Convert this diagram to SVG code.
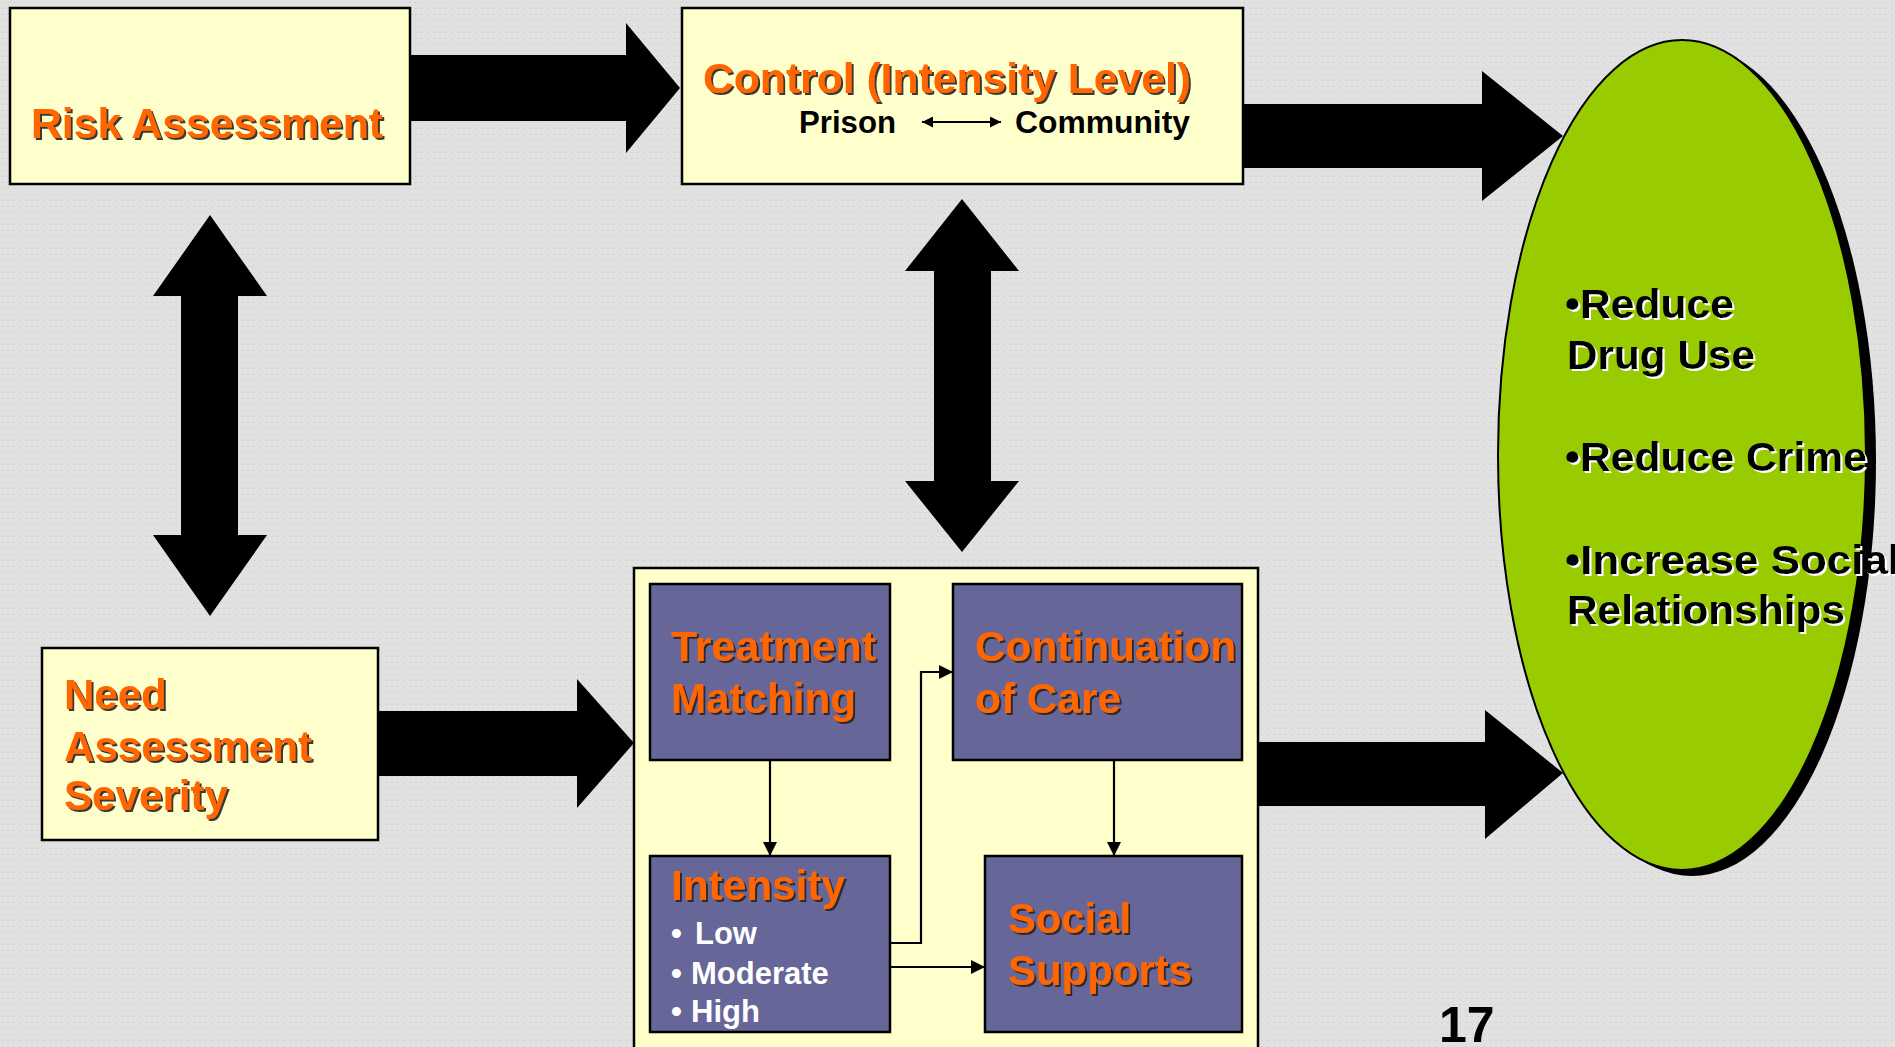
<svg xmlns="http://www.w3.org/2000/svg" width="1895" height="1047" viewBox="0 0 1895 1047">
<defs>
<pattern id="dots" width="6" height="6" patternUnits="userSpaceOnUse">
<rect width="6" height="6" fill="#e1e1e1"/>
<rect x="1" y="2" width="2" height="1" fill="#d2d2d2"/>
</pattern>
<filter id="darkShadow" x="-5%" y="-20%" width="110%" height="140%">
<feDropShadow dx="2" dy="2" stdDeviation="0.4" flood-color="#222" flood-opacity="0.9"/>
</filter>
<filter id="whiteShadow" x="-5%" y="-20%" width="110%" height="140%">
<feDropShadow dx="2" dy="2" stdDeviation="0" flood-color="#ffffff" flood-opacity="1"/>
</filter>
<marker id="ah" viewBox="0 0 10 10" refX="10" refY="5" markerWidth="14" markerHeight="14" markerUnits="userSpaceOnUse" orient="auto">
<path d="M0,0 L10,5 L0,10 z" fill="#000"/>
</marker>
<marker id="ahs" viewBox="0 0 10 10" refX="10" refY="5" markerWidth="13" markerHeight="11" markerUnits="userSpaceOnUse" orient="auto-start-reverse">
<path d="M0,0 L10,5 L0,10 z" fill="#000"/>
</marker>
</defs>
<style>
text { font-family: "Liberation Sans", Arial, sans-serif; font-weight: bold; }
.box { fill: #ffffcc; stroke: #000; stroke-width: 2.5; }
.inner { fill: #666699; stroke: #000; stroke-width: 2.5; }
.orange { fill: #ff6600; font-size: 42px; filter: url(#darkShadow); }
.sub { fill: #000; font-size: 31px; }
.white { fill: #fff; font-size: 31px; }
.goal { fill: #000; font-size: 40px; filter: url(#whiteShadow); }
.big { fill: #000; }
.thin { stroke: #000; stroke-width: 2.2; fill: none; }
</style>
<rect width="1895" height="1047" fill="url(#dots)"/>

<g id="connectors">
<polygon class="big" points="410,55 626,55 626,23 680,88 626,153 626,121 410,121"/>
<polygon class="big" points="1243,104 1482,104 1482,71 1563,136 1482,201 1482,168 1243,168"/>
<polygon class="big" points="378,711 577,711 577,679 634,743 577,808 577,776 378,776"/>
<polygon class="big" points="1258,742 1485,742 1485,710 1563,773 1485,839 1485,806 1258,806"/>
<polygon class="big" points="210,215 267,296 238,296 238,535 267,535 210,616 153,535 181,535 181,296 153,296"/>
<polygon class="big" points="962,199 1019,271 991,271 991,481 1019,481 962,552 905,481 934,481 934,271 905,271"/>
</g>

<g id="risk-assessment">
<rect class="box" x="10" y="8" width="400" height="176"/>
<text class="orange" x="31" y="138" textLength="352" lengthAdjust="spacingAndGlyphs">Risk Assessment</text>
</g>

<g id="control">
<rect class="box" x="682" y="8" width="561" height="176"/>
<text class="orange" x="703" y="93" textLength="488" lengthAdjust="spacingAndGlyphs">Control (Intensity Level)</text>
<text class="sub" x="799" y="133" textLength="97" lengthAdjust="spacingAndGlyphs">Prison</text>
<line class="thin" x1="922" y1="122" x2="1001" y2="122" marker-start="url(#ahs)" marker-end="url(#ahs)"/>
<text class="sub" x="1015" y="133" textLength="175" lengthAdjust="spacingAndGlyphs">Community</text>
</g>

<g id="need-assessment">
<rect class="box" x="42" y="648" width="336" height="192"/>
<text class="orange" x="64" y="709">Need</text>
<text class="orange" x="64" y="761" textLength="248" lengthAdjust="spacingAndGlyphs">Assessment</text>
<text class="orange" x="64" y="810" textLength="164" lengthAdjust="spacingAndGlyphs">Severity</text>
</g>

<g id="treatment-container">
<rect class="box" x="634" y="568" width="624" height="500"/>
</g>

<g id="treatment-matching">
<rect class="inner" x="650" y="584" width="240" height="176"/>
<text class="orange" x="671" y="661" textLength="205" lengthAdjust="spacingAndGlyphs">Treatment</text>
<text class="orange" x="671" y="713" textLength="185" lengthAdjust="spacingAndGlyphs">Matching</text>
</g>

<g id="continuation-of-care">
<rect class="inner" x="953" y="584" width="289" height="176"/>
<text class="orange" x="975" y="661" textLength="261" lengthAdjust="spacingAndGlyphs">Continuation</text>
<text class="orange" x="975" y="713" textLength="146" lengthAdjust="spacingAndGlyphs">of Care</text>
</g>

<g id="intensity">
<rect class="inner" x="650" y="856" width="240" height="176"/>
<text class="orange" x="671" y="900" textLength="174" lengthAdjust="spacingAndGlyphs">Intensity</text>
<text class="white" x="671" y="944">•<tspan x="695">Low</tspan></text>
<text class="white" x="671" y="984">•<tspan x="691">Moderate</tspan></text>
<text class="white" x="671" y="1022">•<tspan x="691">High</tspan></text>
</g>

<g id="social-supports">
<rect class="inner" x="985" y="856" width="257" height="176"/>
<text class="orange" x="1008" y="933" textLength="123" lengthAdjust="spacingAndGlyphs">Social</text>
<text class="orange" x="1008" y="985" textLength="184" lengthAdjust="spacingAndGlyphs">Supports</text>
</g>

<g id="inner-connectors">
<line class="thin" x1="770" y1="760" x2="770" y2="856" marker-end="url(#ah)"/>
<line class="thin" x1="1114" y1="760" x2="1114" y2="856" marker-end="url(#ah)"/>
<polyline class="thin" points="890,943 921,943 921,672 953,672" marker-end="url(#ah)"/>
<line class="thin" x1="890" y1="967" x2="985" y2="967" marker-end="url(#ah)"/>
</g>

<g id="outcomes">
<ellipse cx="1692" cy="461" rx="184" ry="415" fill="#000"/>
<ellipse cx="1682" cy="455" rx="184" ry="415" fill="#99cc00" stroke="#000" stroke-width="2"/>
<text class="goal" x="1565" y="318" textLength="169" lengthAdjust="spacingAndGlyphs">•Reduce</text>
<text class="goal" x="1567" y="369" textLength="188" lengthAdjust="spacingAndGlyphs">Drug Use</text>
<text class="goal" x="1565" y="471" textLength="302" lengthAdjust="spacingAndGlyphs">•Reduce Crime</text>
<text class="goal" x="1565" y="574" textLength="335" lengthAdjust="spacingAndGlyphs">•Increase Social</text>
<text class="goal" x="1567" y="624" textLength="278" lengthAdjust="spacingAndGlyphs">Relationships</text>
</g>

<g id="page-number">
<text x="1439" y="1042" font-size="50" fill="#000">17</text>
</g>
</svg>
